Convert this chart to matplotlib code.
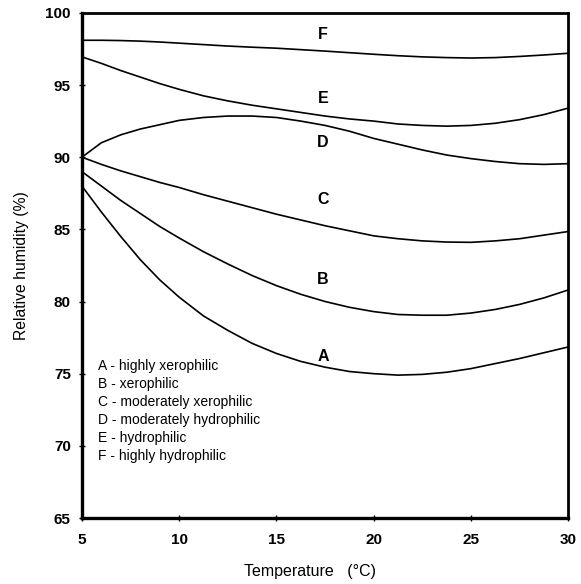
import matplotlib
matplotlib.use("Agg")
import matplotlib.pyplot as plt

plt.rcParams["font.family"] = ["Liberation Sans", "DejaVu Sans"]

#  Data 
temp = [5, 6, 7, 8, 9, 10, 11.25, 12.5, 13.75, 15, 16.25, 17.5,
        18.75, 20, 21.25, 22.5, 23.75, 25, 26.25, 27.5, 28.75, 30]

rh_A = [88.0, 86.2, 84.5, 82.9, 81.5, 80.3, 79.0, 78.0, 77.1, 76.4, 75.85,
        75.45, 75.15, 75.0, 74.9, 74.95, 75.1, 75.35, 75.7, 76.05, 76.45, 76.85]
rh_B = [89.0, 88.0, 87.0, 86.1, 85.2, 84.4, 83.45, 82.6, 81.8, 81.1, 80.5,
        80.0, 79.6, 79.3, 79.1, 79.05, 79.05, 79.2, 79.45, 79.8, 80.25, 80.8]
rh_C = [90.0, 89.5, 89.05, 88.65, 88.25, 87.9, 87.4, 86.95, 86.5, 86.05, 85.65,
        85.25, 84.9, 84.55, 84.35, 84.2, 84.12, 84.1, 84.2, 84.35, 84.6, 84.85]
rh_D = [90.0, 91.0, 91.55, 91.95, 92.25, 92.55, 92.75, 92.85, 92.85, 92.75, 92.5,
        92.2, 91.8, 91.3, 90.9, 90.5, 90.15, 89.9, 89.7, 89.55, 89.5, 89.55]
rh_E = [96.95, 96.5, 96.0, 95.55, 95.1, 94.7, 94.25, 93.9, 93.6, 93.35, 93.1,
        92.85, 92.65, 92.5, 92.3, 92.2, 92.15, 92.2, 92.35, 92.6, 92.95, 93.4]
rh_F = [98.1, 98.1, 98.08, 98.04, 97.98, 97.9, 97.8, 97.7, 97.62, 97.55, 97.45,
        97.35, 97.24, 97.13, 97.03, 96.95, 96.9, 96.87, 96.9, 96.98, 97.08, 97.2]

curve_names = ["A", "B", "C", "D", "E", "F"]
label_x = 17.4
label_y = [76.2, 81.5, 87.05, 91.0, 94.1, 98.5]

legend_lines = [
    "A - highly xerophilic",
    "B - xerophilic",
    "C - moderately xerophilic",
    "D - moderately hydrophilic",
    "E - hydrophilic",
    "F - highly hydrophilic",
]

x_ticks = [5, 10, 15, 20, 25, 30]
y_ticks = [65, 70, 75, 80, 85, 90, 95, 100]

#  Plot 
fig = plt.figure(figsize=(5.81, 5.84), dpi=100)
ax = fig.add_axes([0.141, 0.113, 0.837, 0.865])

for series in [rh_A, rh_B, rh_C, rh_D, rh_E, rh_F]:
    ax.plot(temp, series, color="black", lw=1.2, solid_joinstyle="round")

for name, ly in zip(curve_names, label_y):
    ax.text(label_x, ly, name, fontsize=11.5, fontweight="bold",
            ha="center", va="center")

ax.text(5.85, 76.0, "\n".join(legend_lines), fontsize=10, va="top",
        ha="left", linespacing=1.36)

ax.set_xlim(5, 30)
ax.set_ylim(65, 100)
ax.set_xticks(x_ticks)
ax.set_yticks(y_ticks)
ax.tick_params(direction="inout", length=4, width=1, pad=6)
ax.tick_params(axis="x", pad=9)
for lab in ax.get_xticklabels() + ax.get_yticklabels():
    lab.set_fontweight("bold")
    lab.set_fontsize(11)

for side in ["left", "bottom"]:
    ax.spines[side].set_linewidth(2.4)
for side in ["top", "right"]:
    ax.spines[side].set_linewidth(2.0)

ax.set_xlabel("Temperature   (°C)", fontsize=11.5)
ax.xaxis.set_label_coords(0.469, -0.091)
ax.set_ylabel("Relative humidity (%)", fontsize=11.3, labelpad=12)

fig.savefig("out.png", dpi=100)
